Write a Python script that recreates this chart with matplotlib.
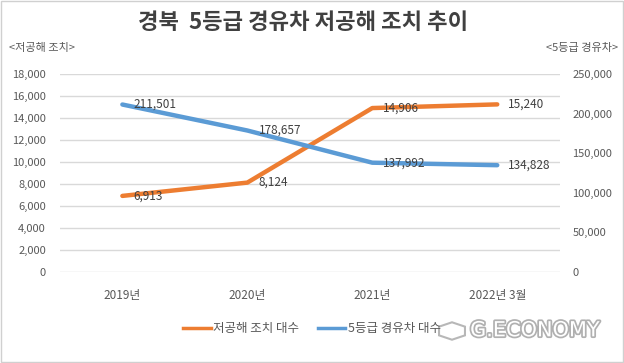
import matplotlib.pyplot as plt
import matplotlib.patheffects as pe
from matplotlib.patches import Rectangle, RegularPolygon

plt.rcParams['font.family'] = ['Noto Sans CJK KR', 'DejaVu Sans']

years = ['2019년', '2020년', '2021년', '2022년 3월']
low_emission = [6913, 8124, 14906, 15240]
grade5_diesel = [211501, 178657, 137992, 134828]

orange = '#ED7D31'
blue = '#5B9BD5'
txt = '#595959'

fig = plt.figure(figsize=(6.24, 3.63), dpi=100)
fig.patches.append(Rectangle((0.002, 0.003), 0.996, 0.994, transform=fig.transFigure,
                             fill=False, edgecolor='#d0d0d0', lw=1))

ax = fig.add_axes([0.096, 0.251, 0.801, 0.545])
ax2 = ax.twinx()

x = range(len(years))
ax.plot(x, low_emission, color=orange, lw=3.2, solid_capstyle='round', zorder=3)
ax2.plot(x, grade5_diesel, color=blue, lw=3.2, solid_capstyle='round', zorder=3)

ax.set_xlim(-0.5, 3.5)
ax.set_ylim(0, 18000)
ax.set_yticks(range(0, 18001, 2000))
ax2.set_ylim(0, 250000)
ax2.set_yticks(range(0, 250001, 50000))
ax.yaxis.set_major_formatter(lambda v, p: f'{int(v):,}')
ax2.yaxis.set_major_formatter(lambda v, p: f'{int(v):,}')
ax.set_xticks(list(x))
ax.set_xticklabels(years)
ax.grid(axis='y', color='#d9d9d9', lw=1)
ax.set_axisbelow(True)
for a in (ax, ax2):
    for s in a.spines.values():
        s.set_visible(False)
    a.tick_params(length=0, labelsize=8, colors=txt)
ax.tick_params(axis='y', pad=10)
ax2.tick_params(axis='y', pad=9)
ax.tick_params(axis='x', pad=12, labelsize=8.5)

# 데이터 레이블
for i, v in enumerate(low_emission):
    ax.annotate(f'{v:,}', (i, v), xytext=(8, 0), textcoords='offset points',
                ha='left', va='center', fontsize=8.5, color='#404040', zorder=4)
for i, v in enumerate(grade5_diesel):
    ax2.annotate(f'{v:,}', (i, v), xytext=(8, 0), textcoords='offset points',
                 ha='left', va='center', fontsize=8.5, color='#404040', zorder=4)

fig.text(0.486, 0.937, '경북  5등급 경유차 저공해 조치 추이', ha='center', va='center',
         fontsize=16, fontweight='bold', color='#404040')
fig.text(0.015, 0.867, '<저공해 조치>', ha='left', va='center', fontsize=8, color=txt)
fig.text(0.99, 0.867, '<5등급 경유차>', ha='right', va='center', fontsize=8, color=txt)

h1, = ax.plot([], [], color=orange, lw=2.5)
h2, = ax.plot([], [], color=blue, lw=2.5)
fig.legend([h1, h2], ['저공해 조치 대수', '5등급 경유차 대수'], loc='center',
           bbox_to_anchor=(0.5, 0.095), ncol=2, frameon=False, fontsize=9,
           labelcolor=txt, handlelength=2.2, handletextpad=0.2, columnspacing=1.5)

# 워터마크
fig.patches.append(RegularPolygon((452 / 624, 1 - 331 / 363), 6, radius=0.024,
                                  transform=fig.transFigure, facecolor='white',
                                  edgecolor='#b0b0b0', lw=1.5, alpha=0.9))
fig.text(0.857, 0.09, 'G.ECONOMY', ha='center', va='center', fontsize=15,
         color='white', fontfamily='DejaVu Sans',
         path_effects=[pe.withStroke(linewidth=2.5, foreground='#b0b0b0')])

fig.savefig('out.png', dpi=100)
